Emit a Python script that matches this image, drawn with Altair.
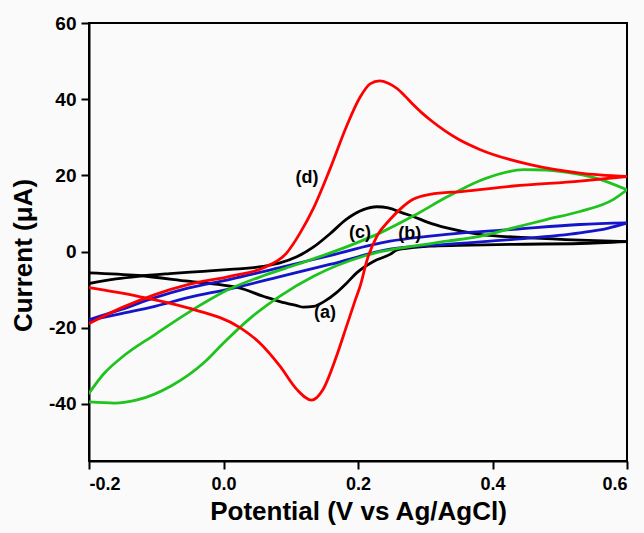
import altair as alt
import pandas as pd

# (a) black: forward (anodic) and reverse (cathodic) sweeps
a_fwd_x = [-0.2, -0.16, -0.127, -0.08, -0.03, 0.0097, 0.059, 0.084, 0.109, 0.134, 0.158, 0.183, 0.208, 0.228, 0.245, 0.265, 0.282, 0.305, 0.332, 0.381, 0.456, 0.53, 0.6]
a_fwd_y = [-8.4, -7.2, -6.5, -5.8, -5.2, -4.7, -3.9, -3.0, -1.4, 1.2, 4.6, 8.5, 11.0, 11.75, 11.45, 10.2, 9.2, 7.6, 6.2, 4.5, 3.6, 3.0, 2.6]
a_rev_x = [0.6, 0.53, 0.431, 0.35, 0.307, 0.28, 0.258, 0.2476, 0.223, 0.198, 0.183, 0.168, 0.15, 0.134, 0.119, 0.109, 0.084, 0.059, 0.022, 0.0097, -0.053, -0.127, -0.2]
a_rev_y = [2.6, 2.1, 1.9, 1.6, 1.4, 1.0, 0.4, -0.75, -2.6, -5.6, -8.3, -10.8, -13.1, -14.4, -14.6, -14.2, -13.15, -11.75, -9.5, -9.1, -7.8, -6.3, -5.6]

# (b) blue
b_fwd_x = [-0.2, -0.152, -0.102, -0.053, 0.0097, 0.084, 0.158, 0.2476, 0.3, 0.332, 0.431, 0.53, 0.6]
b_fwd_y = [-17.9, -15.2, -12.1, -9.6, -7.3, -4.2, -1.05, 2.7, 3.9, 4.5, 5.8, 7.1, 7.5]
b_rev_x = [0.6, 0.571, 0.53, 0.431, 0.332, 0.2476, 0.158, 0.084, 0.0097, -0.053, -0.102, -0.152, -0.2]
b_rev_y = [7.5, 6.1, 4.9, 3.2, 1.9, 0.6, -3.4, -6.6, -9.8, -12.1, -14.4, -16.3, -18.1]

# (c) green
c_fwd_x = [-0.2, -0.177, -0.152, -0.102, -0.053, 0.0097, 0.06, 0.109, 0.16, 0.208, 0.233, 0.282, 0.332, 0.381, 0.415, 0.446, 0.48, 0.506, 0.555, 0.6]
c_fwd_y = [-37.2, -31.9, -27.9, -21.8, -16.1, -9.8, -6.3, -3.4, -0.3, 3.0, 4.9, 9.3, 14.3, 18.6, 20.6, 21.5, 21.4, 20.9, 19.2, 16.2]
c_rev_x = [0.6, 0.58, 0.53, 0.48, 0.431, 0.381, 0.332, 0.282, 0.233, 0.208, 0.134, 0.084, 0.039, 0.0, -0.028, -0.078, -0.127, -0.162, -0.2]
c_rev_y = [16.2, 13.7, 10.5, 8.4, 6.2, 4.0, 2.7, 1.4, -0.05, -1.25, -6.5, -11.7, -17.6, -24.0, -29.0, -35.3, -38.9, -39.8, -39.5]

# (d) red
d_fwd_x = [-0.2, -0.152, -0.102, -0.053, 0.0097, 0.059, 0.094, 0.114, 0.134, 0.158, 0.183, 0.203, 0.218, 0.232, 0.245, 0.258, 0.27, 0.282, 0.295, 0.31, 0.33, 0.35, 0.381, 0.456, 0.53, 0.6]
d_fwd_y = [-18.9, -14.8, -11.3, -8.7, -6.5, -4.3, -0.35, 4.9, 11.45, 21.5, 32.9, 40.5, 44.0, 44.8, 44.2, 42.8, 40.8, 38.6, 36.4, 34.2, 31.6, 29.4, 26.8, 22.8, 20.6, 19.7]
d_rev_x = [0.6, 0.53, 0.431, 0.357, 0.307, 0.282, 0.262, 0.2476, 0.228, 0.213, 0.204, 0.196, 0.183, 0.168, 0.148, 0.131, 0.109, 0.084, 0.054, 0.0245, -0.053, -0.127, -0.2]
d_rev_y = [19.7, 18.5, 17.2, 15.8, 15.0, 13.7, 11.0, 8.4, 4.0, -2.5, -8.6, -12.7, -19.6, -27.5, -36.2, -39.0, -36.2, -30.1, -24.0, -20.0, -14.8, -11.75, -9.5]

curve_names = ["a", "b", "c", "d"]
curve_colors = ["#000000", "#1414c8", "#1ec31e", "#ff0000"]

label_text = ["(a)", "(b)", "(c)", "(d)"]
label_x = [0.151, 0.277, 0.203, 0.124]
label_y = [-16.1, 4.5, 4.9, 19.3]

x_ticks = [-0.2, 0.0, 0.2, 0.4, 0.6]
y_ticks = [-40, -20, 0, 20, 40, 60]

branches = [
    ("a", "fwd", a_fwd_x, a_fwd_y), ("a", "rev", a_rev_x, a_rev_y),
    ("b", "fwd", b_fwd_x, b_fwd_y), ("b", "rev", b_rev_x, b_rev_y),
    ("c", "fwd", c_fwd_x, c_fwd_y), ("c", "rev", c_rev_x, c_rev_y),
    ("d", "fwd", d_fwd_x, d_fwd_y), ("d", "rev", d_rev_x, d_rev_y),
]
rows = []
for name, br, xs, ys in branches:
    for i, (xv, yv) in enumerate(zip(xs, ys)):
        rows.append({"x": xv, "y": yv, "curve": name, "branch": name + br, "order": i})
df = pd.DataFrame(rows)
labels = pd.DataFrame({"x": label_x, "y": label_y, "t": label_text})

FONT = "Liberation Sans"

x_enc = alt.X("x:Q",
              scale=alt.Scale(domain=[-0.2, 0.6], nice=False, zero=False),
              axis=alt.Axis(values=x_ticks, title="Potential (V vs Ag/AgCl)",
                            labelExpr="datum.value < 0 ? '-' + format(-datum.value, '.1f') : format(datum.value, '.1f')",
                            grid=False, domainColor="black", domainWidth=2, tickColor="black", tickWidth=2,
                            tickSize=8, labelPadding=6, labelFont=FONT, labelFontSize=18, labelFontWeight="bold",
                            labelColor="black", titleFont=FONT, titleFontSize=26, titleFontWeight="bold",
                            titleColor="black", titleY=58, titleBaseline="alphabetic"))
y_enc = alt.Y("y:Q",
              scale=alt.Scale(domain=[-55, 60], nice=False, zero=False),
              axis=alt.Axis(values=y_ticks, title="Current (μA)",
                            labelExpr="datum.value < 0 ? '-' + format(-datum.value, 'd') : format(datum.value, 'd')",
                            grid=False, domainColor="black", domainWidth=2, tickColor="black", tickWidth=2,
                            tickSize=8, labelPadding=5, labelFont=FONT, labelFontSize=19, labelFontWeight="bold",
                            labelColor="black", titleFont=FONT, titleFontSize=26, titleFontWeight="bold",
                            titleColor="black", titleX=-58, titleY=232, titleBaseline="alphabetic"))

lines = alt.Chart(df).mark_line(strokeWidth=2.8, clip=True, interpolate="monotone", strokeCap="round").encode(
    x=x_enc, y=y_enc,
    color=alt.Color("curve:N", scale=alt.Scale(domain=curve_names, range=curve_colors), legend=None),
    detail="branch:N",
    order="order:Q",
)

texts = alt.Chart(labels).mark_text(font=FONT, fontSize=18, fontWeight="bold", color="black").encode(
    x="x:Q", y="y:Q", text="t:N")

chart = alt.layer(lines, texts).properties(
    width=538, height=438,
    autosize=alt.AutoSizeParams(type="none"),
    padding={"left": 89, "top": 23, "right": 17, "bottom": 72},
    background="#fafafa",
).configure_view(stroke="black", strokeWidth=2)

chart.save("out.html", embed_options={"renderer": "svg", "actions": False})
